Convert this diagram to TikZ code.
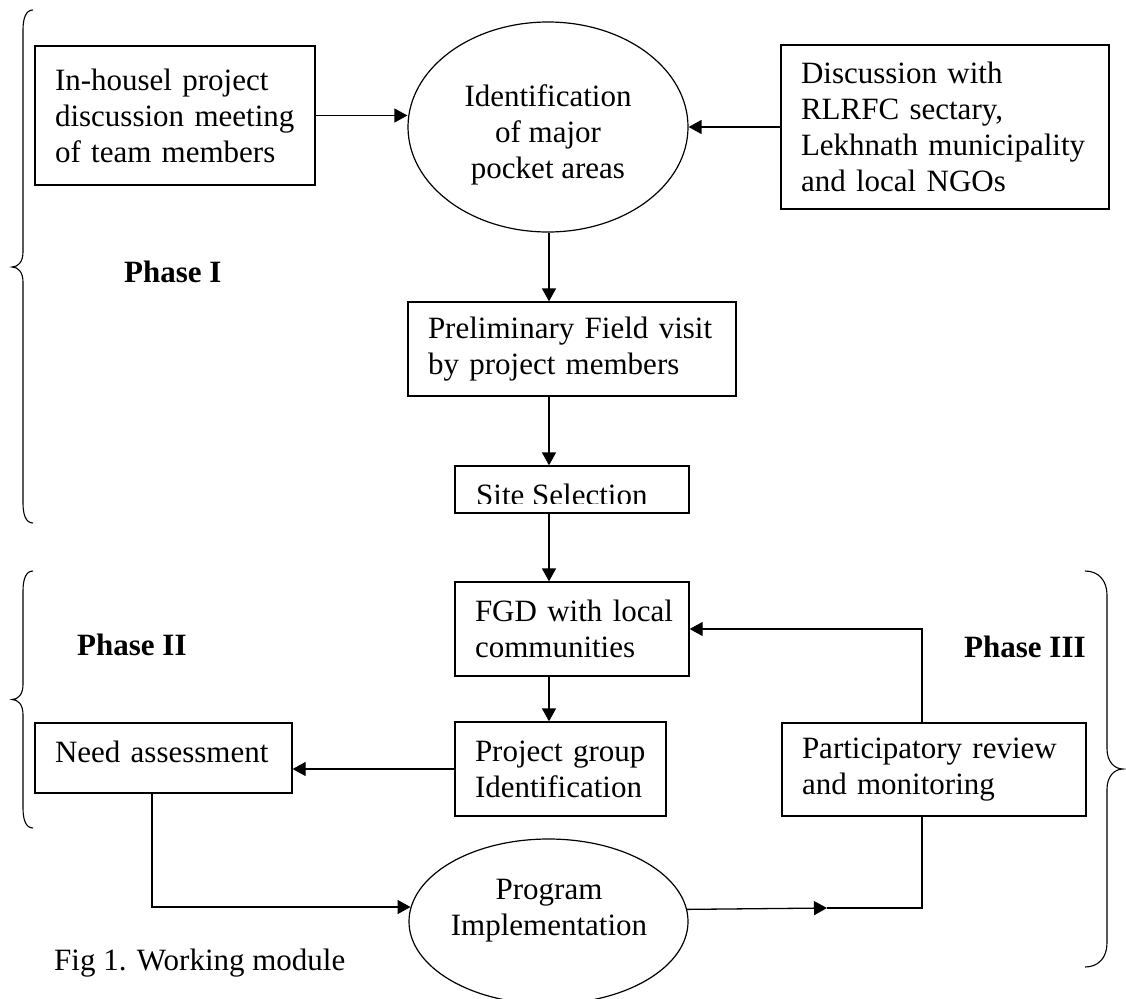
\documentclass[tikz,border=0pt]{standalone}
\usepackage{fontspec}
\setmainfont{Liberation Serif}
\usetikzlibrary{arrows.meta,shapes.geometric}
\begin{document}
\begin{tikzpicture}[x=1pt,y=-1pt,
  every node/.style={font=\fontsize{31}{36}\selectfont},
  box/.style={draw, line width=1.3pt, rectangle, inner xsep=20pt, inner ysep=0pt, align=left},
  oval/.style={draw, line width=1.2pt, ellipse, inner sep=0pt},
  plain/.style={inner sep=0pt},
  conn/.style={line width=1.3pt},
  arr/.style={conn, -{Triangle[length=13pt,width=14pt]}},
  brace/.style={line width=1.1pt},
  phase/.style={inner sep=0pt, anchor=base west, font=\fontsize{31}{36}\selectfont\bfseries}
]
\fill[white] (0,0) rectangle (1126,998);
\useasboundingbox (0,0) rectangle (1126,998);

% boxes
\node[box, minimum width=280pt, minimum height=139pt, text width=240pt] (inhouse) at (175,115.5) {\mbox{In-housel project}\\\mbox{discussion meeting}\\\mbox{of team members}};
\node[box, minimum width=328pt, minimum height=164pt, text width=288pt] (disc) at (945,127) {\mbox{Discussion with}\\\mbox{RLRFC sectary,}\\\mbox{Lekhnath municipality}\\\mbox{and local NGOs}};
\node[oval, minimum width=280pt, minimum height=210pt] (id) at (548,127) {};
\node[plain, align=center] (idtxt) at (548,134.5) {Identification\\of major\\pocket areas};
\node[box, minimum width=328pt, minimum height=94pt, text width=288pt] (prelim) at (572,349) {\mbox{Preliminary Field visit}\\\mbox{by project members}};
\node[box, minimum width=234pt, minimum height=47pt] (site) at (572,489.5) {};
\begin{scope}
  \clip (site.north west) rectangle ([yshift=10pt]site.south east);
  \node[plain, anchor=base west] (sitetxt) at (476,505.5) {Site Selection};
\end{scope}
\node[box, minimum width=234pt, minimum height=94pt, text width=194pt] (fgd) at (572,629) {\mbox{FGD with local}\\\mbox{communities}};
\node[box, minimum width=211pt, minimum height=94pt, text width=171pt] (proj) at (560.5,769) {\mbox{Project group}\\\mbox{Identification}};
\node[box, minimum width=257pt, minimum height=70pt, text width=217pt, text height=21pt, text depth=13pt] (need) at (163.5,758) {\mbox{Need assessment}};
\node[box, minimum width=304pt, minimum height=93pt, text width=264pt] (partic) at (934,769.5) {\mbox{Participatory review}\\\mbox{and monitoring}};
\node[oval, minimum width=279pt, minimum height=165pt] (prog) at (548.5,921.5) {};
\node[plain, align=center] (progtxt) at (549,911) {Program\\Implementation};

% labels
\node[phase] (ph1) at (124,282) {Phase I};
\node[phase] (ph2) at (77,655) {Phase II};
\node[phase] (ph3) at (964,657) {Phase III};
\node[plain, anchor=base west] (cap) at (54,970) {Fig 1. Working module};

% connectors
\coordinate (col) at (549,0);
\coordinate (pcol) at (922,0);
\coordinate (pmid) at (827,908);
\draw[arr] (inhouse.east) -- (inhouse.east -| id.west);
\draw[arr] (disc.west) -- (id.east);
\draw[arr] (col |- id.south) -- (col |- prelim.north);
\draw[arr] (col |- prelim.south) -- (col |- site.north);
\draw[arr] (col |- site.south) -- (col |- fgd.north);
\draw[arr] (col |- fgd.south) -- (col |- proj.north);
\draw[arr] (proj.west) -- (proj.west -| need.east);
\draw[arr] ([xshift=-11.5pt]need.south) |- (prog.174.8);
\draw[arr] (prog.5.6) -- (pmid);
\draw[conn] (pmid) -- (pcol |- pmid) -- (pcol |- partic.south);
\draw[arr] (pcol |- partic.north) |- (fgd.east);

% braces
\draw[brace] (33,10) .. controls (26,10) and (23,18) .. (23,30) -- (23,252) .. controls (23,262) and (18,267) .. (12,267) .. controls (18,267) and (23,272) .. (23,282) -- (23,503) .. controls (23,515) and (26,523) .. (33,523);
\draw[brace] (33,571) .. controls (26,571) and (23,579) .. (23,591) -- (23,684.5) .. controls (23,694.5) and (18,699.5) .. (12,699.5) .. controls (18,699.5) and (23,704.5) .. (23,714.5) -- (23,808) .. controls (23,820) and (26,828) .. (33,828);
\draw[brace] (1085,571) .. controls (1098,571) and (1107,580) .. (1107,595) -- (1107,749) .. controls (1107,761) and (1114,769) .. (1123,769) .. controls (1114,769) and (1107,777) .. (1107,789) -- (1107,943) .. controls (1107,958) and (1098,967) .. (1085,967);
\end{tikzpicture}
\end{document}
